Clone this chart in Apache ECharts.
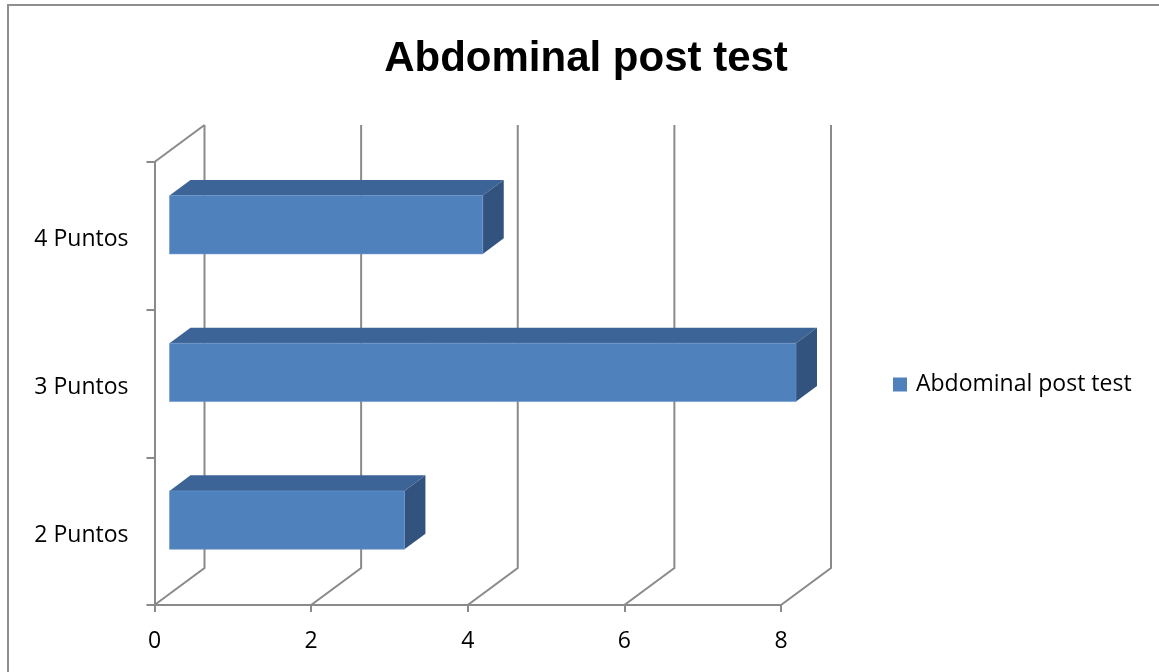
<!DOCTYPE html>
<html>
<head>
<meta charset="utf-8">
<script src="https://cdn.jsdelivr.net/npm/echarts@6/dist/echarts.min.js"></script>
<style>
  html, body { margin: 0; padding: 0; background: #fff; }
  #chart { width: 1159px; height: 672px; }
</style>
</head>
<body>
<div id="chart"></div>
<script>
// Chart data
const categories = ['2 Puntos', '3 Puntos', '4 Puntos'];
const seriesName = 'Abdominal post test';
const values = [3, 8, 4];
const xTicks = [0, 2, 4, 6, 8];

// 3D look: full wall depth and the slice of it that the bars occupy
const DEPTH_X = 50, DEPTH_Y = -37;
const BAR_FRONT = 0.3, BAR_BACK = 0.72;
const BAR_HEIGHT_RATIO = 0.395;
const GRID_COLOR = '#8a8a8a';
const FRONT = '#4F81BD', TOP = '#3D6496', SIDE = '#33537F';
const FONT = '"Open Sans", "Liberation Sans", sans-serif';

const chart = echarts.init(document.getElementById('chart'), null, { renderer: 'canvas' });

function renderWalls(params, api) {
  const v = api.value(0);
  const cs = params.coordSys;
  const x = api.coord([v, 0])[0];
  const yTop = cs.y, yBot = cs.y + cs.height;
  const style = { stroke: GRID_COLOR, lineWidth: 2, fill: null };
  const children = [{
    type: 'polyline',
    shape: { points: [[x, yBot], [x + DEPTH_X, yBot + DEPTH_Y], [x + DEPTH_X, yTop + DEPTH_Y]] },
    style: style
  }];
  if (v === 0) {
    children.push({
      type: 'line',
      shape: { x1: x, y1: yTop, x2: x + DEPTH_X, y2: yTop + DEPTH_Y },
      style: style
    });
  }
  return { type: 'group', children: children };
}

function renderBar(params, api) {
  const val = api.value(0);
  const cat = api.value(1);
  const p0 = api.coord([0, cat]);
  const p1 = api.coord([val, cat]);
  const band = api.size([0, 1])[1];
  const h = band * BAR_HEIGHT_RATIO;
  const fx = BAR_FRONT * DEPTH_X, fy = BAR_FRONT * DEPTH_Y;
  const dx = (BAR_BACK - BAR_FRONT) * DEPTH_X, dy = (BAR_BACK - BAR_FRONT) * DEPTH_Y;
  const xl = p0[0] + fx, xr = p1[0] + fx;
  const yc = p0[1] + fy;
  const yt = yc - h / 2, yb = yc + h / 2;
  return {
    type: 'group',
    children: [
      { type: 'polygon', shape: { points: [[xl, yt], [xr, yt], [xr + dx, yt + dy], [xl + dx, yt + dy]] },
        style: { fill: TOP } },
      { type: 'polygon', shape: { points: [[xr, yt], [xr + dx, yt + dy], [xr + dx, yb + dy], [xr, yb]] },
        style: { fill: SIDE } },
      { type: 'rect', shape: { x: xl, y: yt, width: xr - xl, height: h },
        style: { fill: FRONT, stroke: '#6f96c9', lineWidth: 0.6 } }
    ]
  };
}

chart.setOption({
  animation: false,
  backgroundColor: '#ffffff',
  title: {
    text: seriesName,
    left: 581,
    textAlign: 'center',
    top: 33,
    textStyle: { fontFamily: '"Liberation Sans", Arial, sans-serif', fontWeight: 'bold', fontSize: 42, color: '#000' }
  },
  legend: {
    data: [seriesName],
    left: 893,
    top: 373,
    padding: 0,
    icon: 'rect',
    itemWidth: 14,
    itemHeight: 14,
    textStyle: { fontFamily: FONT, fontSize: 23, color: '#000', padding: [0, 0, 0, 4] }
  },
  graphic: [{
    type: 'rect',
    shape: { x: 8, y: 5, width: 1300, height: 800 },
    style: { fill: null, stroke: '#8f8f8f', lineWidth: 2 },
    silent: true
  }],
  grid: { left: 154.5, right: 378, top: 162, bottom: 67 },
  xAxis: {
    type: 'value',
    min: 0,
    max: 8,
    interval: 2,
    axisLine: { show: true, lineStyle: { color: GRID_COLOR, width: 2 } },
    axisTick: { show: true, length: 7, lineStyle: { color: GRID_COLOR, width: 2 } },
    splitLine: { show: false },
    axisLabel: { fontFamily: FONT, fontSize: 23, color: '#000', margin: 25,
      formatter: v => xTicks.indexOf(v) >= 0 ? String(v) : '' }
  },
  yAxis: {
    type: 'category',
    data: categories,
    axisLine: { show: true, lineStyle: { color: GRID_COLOR, width: 2 } },
    axisTick: { show: true, length: 8, lineStyle: { color: GRID_COLOR, width: 2 } },
    axisLabel: {
      margin: 26,
      formatter: v => '{a|' + v + '}',
      rich: { a: { fontFamily: FONT, fontSize: 23, color: '#000', padding: [8, 0, 0, 0] } }
    }
  },
  series: [
    {
      type: 'custom',
      silent: true,
      z: 1,
      renderItem: renderWalls,
      encode: { x: 0 },
      data: xTicks.map(v => [v, 0])
    },
    {
      name: seriesName,
      type: 'custom',
      z: 2,
      itemStyle: { color: FRONT },
      renderItem: renderBar,
      encode: { x: 0, y: 1 },
      data: values.map((v, i) => [v, i])
    }
  ]
});
</script>
</body>
</html>
